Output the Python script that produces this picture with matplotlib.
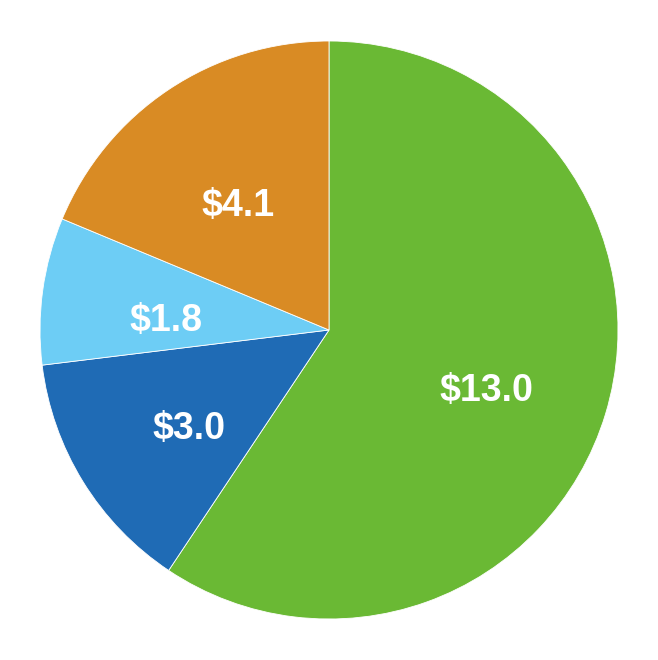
import matplotlib
matplotlib.use("Agg")
import matplotlib.pyplot as plt

# data (clockwise from top)
values = [13.0, 3.0, 1.8, 4.1]
labels = ["$13.0", "$3.0", "$1.8", "$4.1"]
colors = ["#6ab934", "#1f6bb5", "#6dcdf5", "#d98b24"]

fig = plt.figure(figsize=(6.58, 6.60), dpi=100)
R = 289
cx, cy = 329, 330
ax = fig.add_axes([(cx - R) / 658, (660 - cy - R) / 660, 2 * R / 658, 2 * R / 660])

wedges, texts = ax.pie(values, colors=colors, startangle=90, counterclock=False,
                       labels=labels, labeldistance=0.57,
                       wedgeprops=dict(edgecolor="white", linewidth=0.6))
for t in texts:
    x, y = t.get_position()
    t.set_position((x, y - 0.045))
    t.set_color("white")
    t.set_fontsize(27)
    t.set_fontweight("bold")
    t.set_family(["Liberation Sans", "DejaVu Sans"])
    t.set_ha("center")
    t.set_va("center")
ax.set_aspect("equal")
ax.set_xlim(-1, 1)
ax.set_ylim(-1, 1)

fig.savefig("out.png", dpi=100)
